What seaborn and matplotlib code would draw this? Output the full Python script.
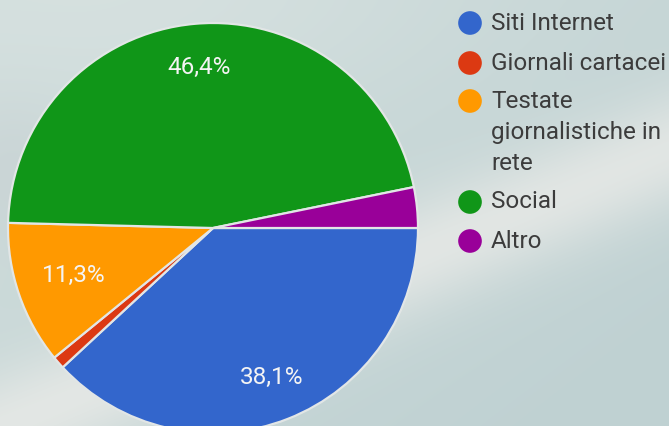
import numpy as np
import matplotlib
matplotlib.use("Agg")
import matplotlib.pyplot as plt
import seaborn as sns

# ---- data ----
categories = ["Siti Internet", "Giornali cartacei", "Testate giornalistiche in rete", "Social", "Altro"]
legend_lines = [["Siti Internet"], ["Giornali cartacei"], ["Testate", "giornalistiche in", "rete"], ["Social"], ["Altro"]]
values = [38.1, 1.0, 11.3, 46.4, 3.2]
colors = ["#3366cc", "#dc3912", "#ff9900", "#109618", "#990099"]

sns.set_style("white")
plt.rcParams["font.family"] = ["Roboto", "DejaVu Sans"]

W, H = 669, 426
fig = plt.figure(figsize=(W / 100, H / 100), dpi=100)

# background (photo-like gradient)
bg = fig.add_axes([0, 0, 1, 1])
yy, xx = np.mgrid[0:H, 0:W]
base = np.array([0.82, 0.87, 0.865])
dark = np.array([0.75, 0.82, 0.825])
light = np.array([0.96, 0.945, 0.93])
t = np.clip(xx / W * 0.6 + yy / H * 0.5, 0, 1)
img = base[None, None, :] * (1 - t[..., None]) + dark[None, None, :] * t[..., None]
# diagonal bright streak
p0 = np.array([20.0, 420.0]); p1 = np.array([669.0, 150.0])
d = (p1 - p0) / np.linalg.norm(p1 - p0)
n = np.array([-d[1], d[0]])
dist = (xx - p0[0]) * n[0] + (yy - p0[1]) * n[1]
band = np.exp(-(dist / 55.0) ** 2) * 0.6
img = img * (1 - band[..., None]) + light[None, None, :] * band[..., None]
# top-left lighter
tl = np.exp(-(((xx - 150) / 280.0) ** 2 + ((yy - 0) / 110.0) ** 2)) * 0.4
img = img * (1 - tl[..., None]) + np.array([0.87, 0.90, 0.895])[None, None, :] * tl[..., None]
# soft darker area left
lf = np.exp(-(((xx - 10) / 60.0) ** 2 + ((yy - 170) / 70.0) ** 2)) * 0.3
img = img * (1 - lf[..., None]) + np.array([0.76, 0.78, 0.80])[None, None, :] * lf[..., None]
bg.imshow(np.clip(img, 0, 1), extent=[0, W, H, 0], aspect="auto")
bg.set_axis_off()

# pie axes
cx, cy, r = 213, 228, 205
ax = fig.add_axes([(cx - r) / W, (H - cy - r) / H, 2 * r / W, 2 * r / H])
ax.set_axis_off()

def fmt(v):
    return f"{v:.1f}".replace(".", ",") + "%"

wedges, _ = ax.pie(values, colors=colors, startangle=0, counterclock=False,
                   wedgeprops=dict(edgecolor="#e2e6e6", linewidth=1.6),
                   radius=1.0)
for w, v in zip(wedges, values):
    if v < 5:
        continue
    ang = np.deg2rad((w.theta1 + w.theta2) / 2)
    rr = 0.72 if v < 20 else 0.785
    ax.text(rr * np.cos(ang), rr * np.sin(ang), fmt(v), color="#f4f4f4",
            fontsize=17.5, ha="center", va="center")
ax.set_xlim(-1, 1)
ax.set_ylim(-1, 1)
ax.set_aspect("equal")

# legend
lg = fig.add_axes([0, 0, 1, 1])
lg.set_xlim(0, W)
lg.set_ylim(H, 0)
lg.set_axis_off()
entry_y = [23, 63, 101, 202, 241]
for y0, lines, col in zip(entry_y, legend_lines, colors):
    lg.scatter([470], [y0], s=290, color=col, edgecolor="none")
    for i, line in enumerate(lines):
        lg.text(491, y0 + i * 31.5, line, fontsize=17.5, color="#3c3c3c",
                ha="left", va="center")

fig.savefig("out.png", dpi=100)
